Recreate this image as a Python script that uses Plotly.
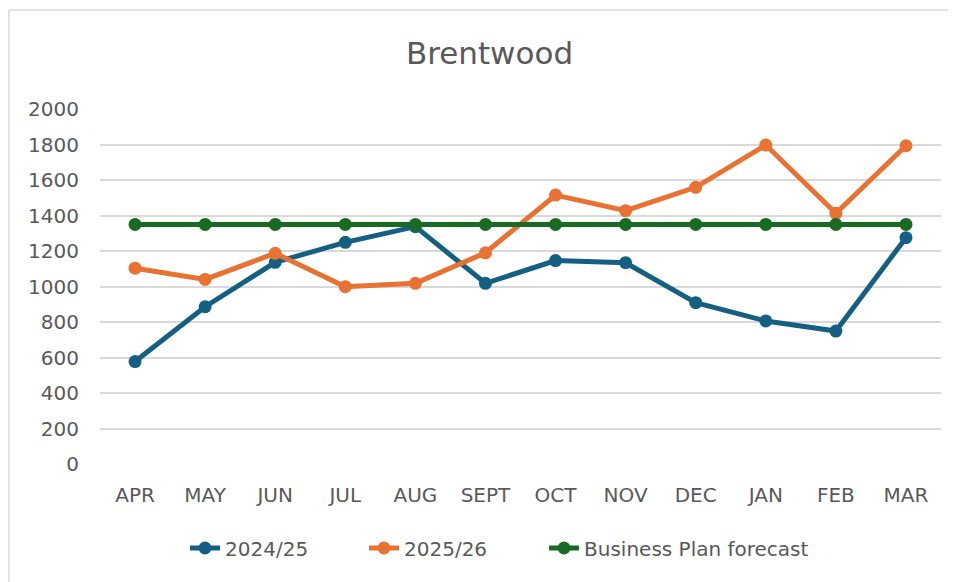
import plotly.graph_objects as go

months = ["APR", "MAY", "JUN", "JUL", "AUG", "SEPT", "OCT", "NOV", "DEC", "JAN", "FEB", "MAR"]
y2024_25 = [577, 886, 1136, 1249, 1337, 1018, 1146, 1134, 909, 806, 749, 1275]
y2025_26 = [1103, 1040, 1187, 999, 1018, 1190, 1515, 1427, 1559, 1797, 1412, 1793]
business_plan = [1350] * 12
y_ticks = [0, 200, 400, 600, 800, 1000, 1200, 1400, 1600, 1800, 2000]

FONT = "DejaVu Sans"
GREY = "#595959"

fig = go.Figure()
series = [
    ("2024/25", y2024_25, "#156082", "legend"),
    ("2025/26", y2025_26, "#E97132", "legend2"),
    ("Business Plan forecast", business_plan, "#196B24", "legend3"),
]
for name, vals, col, leg in series:
    fig.add_trace(go.Scatter(
        x=months, y=vals, name=name, mode="lines+markers",
        line=dict(color=col, width=5),
        marker=dict(color=col, size=13),
        legend=leg,
    ))

# chart frame (left and top edges; the rest is cropped in the reference)
frame = dict(color="#D9D9D9", width=1.5)
fig.add_shape(type="line", xref="paper", yref="paper",
              x0=-0.1082, x1=-0.1082, y0=-0.45, y1=1.279, line=frame, layer="below")
fig.add_shape(type="line", xref="paper", yref="paper",
              x0=-0.1082, x1=1.2, y0=1.279, y1=1.279, line=frame, layer="below")

leg_common = dict(orientation="h", y=-0.2366, yanchor="middle", xanchor="left",
                  font=dict(family=FONT, size=20, color=GREY), bgcolor="rgba(0,0,0,0)")

fig.update_layout(
    width=948, height=574,
    margin=dict(l=92, r=15, t=101, b=118),
    paper_bgcolor="white", plot_bgcolor="white",
    font=dict(family=FONT, color=GREY, size=20),
    title=dict(text="Brentwood", x=0.5079, xanchor="center", y=0.9216, yanchor="middle",
               font=dict(family=FONT, size=31, color=GREY)),
    showlegend=True,
    legend=dict(x=0.1011, **leg_common),
    legend2=dict(x=0.3139, **leg_common),
    legend3=dict(x=0.528, **leg_common),
    xaxis=dict(range=[-0.5, 11.5], showgrid=False, showline=False, zeroline=False, ticks="",
               ticklabelstandoff=17, tickfont=dict(size=20, color=GREY)),
    yaxis=dict(range=[0, 2000], tickvals=y_ticks, showgrid=True, gridcolor="#D9D9D9",
               gridwidth=1.5, zeroline=False, showline=False, ticks="",
               ticklabelstandoff=20, tickfont=dict(size=20, color=GREY)),
)

fig.write_html("out.html")
